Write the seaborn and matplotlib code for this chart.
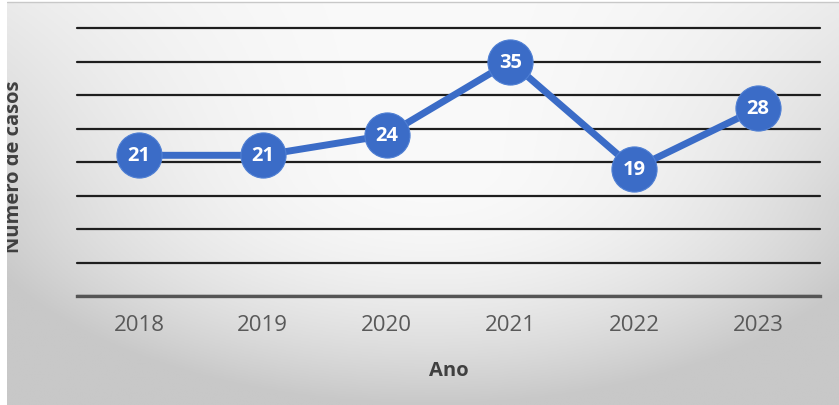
import numpy as np
import pandas as pd
import matplotlib
matplotlib.use("Agg")
import matplotlib.pyplot as plt
import seaborn as sns
from matplotlib.patches import Rectangle

years = ["2018", "2019", "2020", "2021", "2022", "2023"]
cases = [21, 21, 24, 35, 19, 28]
y_ticks = [0, 5, 10, 15, 20, 25, 30, 35, 40]
x_label = "Ano"
y_label = "Número de casos"

df = pd.DataFrame({"Ano": years, "Casos": cases})

sns.set_theme(style="white")
plt.rcParams["font.family"] = ["Open Sans", "DejaVu Sans"]

W, H = 839, 406
fig = plt.figure(figsize=(W / 100, H / 100), dpi=100)
fig.patch.set_facecolor("white")

# background gradient (chart area)
bg = fig.add_axes([7 / W, 0, (W - 7) / W, (H - 3) / H], zorder=0)
xx, yy = np.meshgrid(np.linspace(7, W, 300), np.linspace(3, H, 150))
dx = (xx - 430) / 420
dy = (yy - 170) / 230
t = np.clip((yy - 3) / 200, 0, 1)
v = 250 - 38 * dx ** 2 * (0.4 + 0.6 * t) - 47 * np.clip(dy, 0, None) ** 2
v = np.clip(v, 200, 255) / 255
bg.imshow(np.dstack([v, v, v]), aspect="auto", extent=[0, 1, 0, 1], origin="upper")
bg.set_axis_off()
fig.add_artist(plt.Line2D([7 / W, 1], [(H - 3) / H, (H - 3) / H], color="#c8c8c8", lw=1))

ax = fig.add_axes([77 / W, (H - 297) / H, (820 - 77) / W, (297 - 29) / H], zorder=2)
ax.patch.set_alpha(0)
blue = "#3B6CC7"
sns.lineplot(data=df, x="Ano", y="Casos", ax=ax, color=blue, lw=5, sort=False,
             marker="o", markersize=32.5, markeredgecolor="#5080d4", markeredgewidth=0.8,
             clip_on=False)
for i, (yr, c) in enumerate(zip(years, cases)):
    ax.text(i, c, str(c), ha="center", va="center", color="white",
            fontsize=14.5, fontweight="bold", zorder=5)

ax.set_xlim(-0.5, len(years) - 0.5)
ax.set_ylim(0, 40)
ax.set_yticks(y_ticks)
ax.set_yticklabels([])
ax.tick_params(axis="y", length=0)
ax.tick_params(axis="x", length=0, pad=13, labelsize=16, labelcolor="#595959")
ax.grid(axis="y", color="#1e1e1e", lw=1.6)
ax.set_axisbelow(True)
for gl in ax.get_ygridlines():
    gl.set_clip_on(False)
for s in ["top", "left", "right"]:
    ax.spines[s].set_visible(False)
ax.spines["bottom"].set_color("#555555")
ax.spines["bottom"].set_linewidth(2.4)
ax.spines["bottom"].set_zorder(3)
ax.set_xlabel(x_label, fontsize=14.5, fontweight="bold", color="#404040", labelpad=18)
ax.set_ylabel("")

fig.text(14 / W, 1 - 167 / H, y_label, rotation=90, ha="center", va="center",
         fontsize=14.5, fontweight="bold", color="#404040", zorder=1)
fig.add_artist(Rectangle((0, 0), 7 / W, 1, transform=fig.transFigure,
                         facecolor="white", edgecolor="none", zorder=10))

fig.savefig("out.png", dpi=100)
